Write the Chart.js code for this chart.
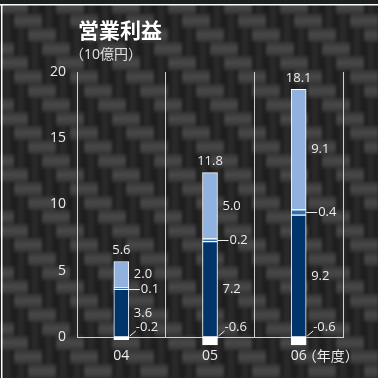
<!DOCTYPE html>
<html>
<head>
<meta charset="utf-8">
<script src="https://cdn.jsdelivr.net/npm/chart.js@4.4.1/dist/chart.umd.min.js"></script>
<style>
  html, body { margin: 0; padding: 0; background: #2a2a2a; }
  #wrap { position: relative; width: 378px; height: 378px; overflow: hidden; }
  #title { position: absolute; left: 78px; top: 19px; color: #fff; font: bold 21px/1 "Noto Sans CJK JP"; }
  #unit { position: absolute; left: 70px; top: 47px; color: #e0e0e0; font: 14px/1 "Open Sans", "Noto Sans CJK JP"; }
</style>
</head>
<body>
<div id="wrap">
  <canvas id="c" width="378" height="378"></canvas>
  <div id="title">営業利益</div>
  <div id="unit">（10億円）</div>
</div>
<script>
var years = ['04', '05', '06'];
var yearNote = '（年度）';
var adjust = [-0.2, -0.6, -0.6];
var core = [3.6, 7.2, 9.2];
var other = [0.1, 0.2, 0.4];
var growth = [2.0, 5.0, 9.1];
var totals = [5.6, 11.8, 18.1];
var yTicks = [0, 5, 10, 15, 20];

var FONT = '"Open Sans", "Noto Sans CJK JP"';
var TEXT = '#ececec';
var LINE = '#cfcfcf';

// carbon weave background + white frame
var weave = {
  id: 'weave',
  beforeDraw(chart) {
    var ctx = chart.ctx, w = chart.width, h = chart.height;
    var off = document.createElement('canvas');
    off.width = w; off.height = h;
    var o = off.getContext('2d');
    var cell = 14;
    for (var i = -2; i * cell < w + cell; i++) {
      for (var j = -2; j * cell < h + cell; j++) {
        var k = ((i - j) % 4 + 4) % 4;
        var x = i * cell, y = j * cell, g;
        if (k < 2) {
          g = o.createLinearGradient(x, y, x, y + cell);
          g.addColorStop(0, '#333333'); g.addColorStop(0.5, '#4a4a4a'); g.addColorStop(1, '#333333');
        } else {
          g = o.createLinearGradient(x, y, x + cell, y);
          g.addColorStop(0, '#1a1a1a'); g.addColorStop(0.5, '#2c2c2c'); g.addColorStop(1, '#1a1a1a');
        }
        o.fillStyle = g;
        o.fillRect(x, y, cell, cell);
      }
    }
    ctx.save();
    ctx.filter = 'blur(1.5px)';
    ctx.drawImage(off, 0, 0);
    ctx.filter = 'none';
    ctx.fillStyle = '#1a1f1f';
    ctx.fillRect(0, 0, w, 4);
    ctx.strokeStyle = '#ffffff';
    ctx.lineWidth = 1.5;
    ctx.beginPath();
    ctx.moveTo(0, 4.75); ctx.lineTo(w, 4.75);
    ctx.moveTo(1.75, 4); ctx.lineTo(1.75, h);
    ctx.stroke();
    ctx.restore();
  }
};

var labels = {
  id: 'labels',
  afterDatasetsDraw(chart) {
    var ctx = chart.ctx;
    var mAdj = chart.getDatasetMeta(0), mCore = chart.getDatasetMeta(1);
    var mOther = chart.getDatasetMeta(2), mGrowth = chart.getDatasetMeta(3);
    ctx.save();
    ctx.font = '13px ' + FONT;
    ctx.fillStyle = TEXT;
    ctx.strokeStyle = TEXT;
    ctx.lineWidth = 1;
    ctx.textBaseline = 'middle';
    years.forEach(function (yr, i) {
      var top = mGrowth.data[i];
      var right = top.x + top.width / 2;
      ctx.textAlign = 'center';
      ctx.fillText(totals[i].toFixed(1), top.x, top.y - 11);
      ctx.textAlign = 'left';
      ctx.fillText(growth[i].toFixed(1), right + 5, (top.y + top.base) / 2);
      var c = mCore.data[i];
      ctx.fillText(core[i].toFixed(1), right + 5, (c.y + c.base) / 2);
      var o = mOther.data[i], oy = Math.round((o.y + o.base) / 2) + 0.5;
      ctx.beginPath();
      ctx.moveTo(right, oy); ctx.lineTo(right + 11, oy);
      ctx.stroke();
      ctx.fillText(other[i].toFixed(1), right + 12, oy);
      var a = mAdj.data[i];
      ctx.beginPath();
      ctx.moveTo(right + 1, a.base - 1); ctx.lineTo(right + 7, a.base - 6);
      ctx.stroke();
      ctx.fillText(adjust[i].toFixed(1), right + 7, a.base - 10);
    });
    // year note after the last tick label
    var xs = chart.scales.x;
    var last = years.length - 1;
    ctx.font = '14px ' + FONT;
    var lx = xs.getPixelForValue(last) + ctx.measureText(years[last]).width / 2;
    ctx.textAlign = 'left';
    ctx.fillText(yearNote, lx - 4, 357);
    ctx.restore();
  }
};

var bar = { borderColor: '#ffffff', borderWidth: 1, borderSkipped: false, barThickness: 15, clip: false };

new Chart(document.getElementById('c'), {
  type: 'bar',
  data: {
    labels: years,
    datasets: [
      Object.assign({ label: 'adjust', data: adjust, backgroundColor: '#ffffff' }, bar),
      Object.assign({ label: 'core', data: core, backgroundColor: '#00346a' }, bar),
      Object.assign({ label: 'other', data: other, backgroundColor: '#2b6fae' }, bar),
      Object.assign({ label: 'growth', data: growth, backgroundColor: '#91b2de' }, bar)
    ]
  },
  options: {
    responsive: false,
    animation: false,
    layout: { padding: { top: 72, right: 35, left: 0, bottom: 0 } },
    plugins: { legend: { display: false }, tooltip: { enabled: false } },
    scales: {
      x: {
        stacked: true,
        grid: { display: true, color: LINE, drawTicks: false, offset: true },
        border: { display: true, color: LINE },
        ticks: { color: TEXT, font: { family: FONT, size: 14 }, padding: 11 },
        afterFit: function (s) { s.height = 41; }
      },
      y: {
        stacked: true,
        min: 0,
        max: 20,
        grid: { display: false, drawTicks: false },
        border: { display: true, color: LINE },
        afterBuildTicks: function (s) { s.ticks = yTicks.map(function (v) { return { value: v }; }); },
        ticks: { color: TEXT, font: { family: FONT, size: 14 }, padding: 11 },
        afterFit: function (s) { s.width = 77; }
      }
    }
  },
  plugins: [weave, labels]
});
</script>
</body>
</html>
